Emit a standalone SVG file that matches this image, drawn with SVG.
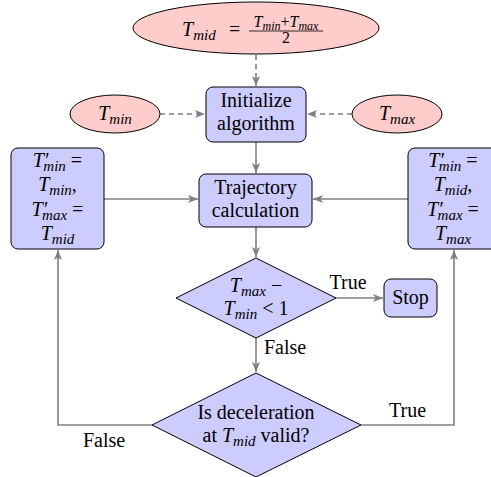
<svg xmlns="http://www.w3.org/2000/svg" width="491" height="477" viewBox="0 0 491 477">
<defs>
<marker id="ah" markerUnits="userSpaceOnUse" markerWidth="11" markerHeight="9" refX="10" refY="4" orient="auto">
<path d="M0,0 L10,4 L0,8 L2.5,4 z" fill="#808080"/>
</marker>
</defs>
<rect width="491" height="477" fill="#fff"/>
<g id="connectors">
<g fill="none" stroke="#808080" stroke-width="1.6" marker-end="url(#ah)">
<g stroke-dasharray="5 4">
<line x1="256" y1="55" x2="256" y2="86"/>
<line x1="160" y1="114" x2="205" y2="114"/>
<line x1="352" y1="114" x2="307" y2="114"/>
</g>
<line x1="256" y1="142" x2="256" y2="173"/>
<line x1="104" y1="199" x2="198" y2="199"/>
<line x1="408" y1="199" x2="313" y2="199"/>
<line x1="256" y1="227" x2="256" y2="257"/>
<line x1="336" y1="298" x2="383" y2="298"/>
<line x1="256" y1="338" x2="256" y2="372"/>
<polyline points="152,425 58,425 58,250"/>
<polyline points="361,425 454,425 454,250"/>
</g>
<text x="348" y="289" text-anchor="middle" font-family="Liberation Serif" font-size="20">True</text>
<text x="264" y="354" font-family="Liberation Serif" font-size="20">False</text>
<text x="83" y="447" font-family="Liberation Serif" font-size="20">False</text>
<text x="389" y="417" font-family="Liberation Serif" font-size="20">True</text>
</g>
<g id="tmid">
<ellipse fill="#ffcccc" stroke="#000" cx="256" cy="28" rx="123" ry="26"/>
<text x="182" y="36" font-family="Liberation Serif" font-size="20"><tspan font-style="italic">T</tspan><tspan font-style="italic" font-size="15" dy="4">mid</tspan></text>
<text x="229" y="36" font-family="Liberation Serif" font-size="20">=</text>
<text x="286" y="27" text-anchor="middle" font-family="Liberation Serif" font-size="16"><tspan font-style="italic">T</tspan><tspan font-style="italic" font-size="12" dy="3">min</tspan><tspan dy="-3">+</tspan><tspan font-style="italic">T</tspan><tspan font-style="italic" font-size="12" dy="3">max</tspan></text>
<line x1="249" y1="31" x2="323" y2="31" stroke="#000" stroke-width="0.8"/>
<text x="286" y="43" text-anchor="middle" font-family="Liberation Serif" font-size="16">2</text>
</g>
<g id="tmin">
<ellipse fill="#ffcccc" stroke="#000" cx="115" cy="114" rx="45" ry="19"/>
<text x="115" y="120" text-anchor="middle" font-family="Liberation Serif" font-size="20"><tspan font-style="italic">T</tspan><tspan font-style="italic" font-size="15" dy="4">min</tspan></text>
</g>
<g id="tmax">
<ellipse fill="#ffcccc" stroke="#000" cx="397" cy="114" rx="45" ry="19"/>
<text x="397" y="120" text-anchor="middle" font-family="Liberation Serif" font-size="20"><tspan font-style="italic">T</tspan><tspan font-style="italic" font-size="15" dy="4">max</tspan></text>
</g>
<g id="init">
<rect fill="#ccccff" stroke="#000" x="206" y="87" width="100" height="55" rx="7"/>
<text x="256" y="107" text-anchor="middle" font-family="Liberation Serif" font-size="20">Initialize</text>
<text x="256" y="130" text-anchor="middle" font-family="Liberation Serif" font-size="20">algorithm</text>
</g>
<g id="traj">
<rect fill="#ccccff" stroke="#000" x="199" y="174" width="113" height="53" rx="7"/>
<text x="255.5" y="194" text-anchor="middle" font-family="Liberation Serif" font-size="20">Trajectory</text>
<text x="255.5" y="217" text-anchor="middle" font-family="Liberation Serif" font-size="20">calculation</text>
</g>
<g id="left">
<rect fill="#ccccff" stroke="#000" x="11" y="148" width="93" height="101" rx="7"/>
<text x="57.5" y="167" text-anchor="middle" font-family="Liberation Serif" font-size="20"><tspan font-style="italic">T′</tspan><tspan font-style="italic" font-size="15" dx="-5" dy="4">min</tspan><tspan dy="-4"> =</tspan></text>
<text x="57.5" y="191" text-anchor="middle" font-family="Liberation Serif" font-size="20"><tspan font-style="italic">T</tspan><tspan font-style="italic" font-size="15" dy="4">min</tspan><tspan dy="-4">,</tspan></text>
<text x="57.5" y="216" text-anchor="middle" font-family="Liberation Serif" font-size="20"><tspan font-style="italic">T′</tspan><tspan font-style="italic" font-size="15" dx="-5" dy="4">max</tspan><tspan dy="-4"> =</tspan></text>
<text x="57.5" y="240" text-anchor="middle" font-family="Liberation Serif" font-size="20"><tspan font-style="italic">T</tspan><tspan font-style="italic" font-size="15" dy="4">mid</tspan></text>
</g>
<g id="right">
<rect fill="#ccccff" stroke="#000" x="408" y="148" width="92" height="101" rx="7"/>
<text x="453" y="167" text-anchor="middle" font-family="Liberation Serif" font-size="20"><tspan font-style="italic">T′</tspan><tspan font-style="italic" font-size="15" dx="-5" dy="4">min</tspan><tspan dy="-4"> =</tspan></text>
<text x="453" y="191" text-anchor="middle" font-family="Liberation Serif" font-size="20"><tspan font-style="italic">T</tspan><tspan font-style="italic" font-size="15" dy="4">mid</tspan><tspan dy="-4">,</tspan></text>
<text x="453" y="216" text-anchor="middle" font-family="Liberation Serif" font-size="20"><tspan font-style="italic">T′</tspan><tspan font-style="italic" font-size="15" dx="-5" dy="4">max</tspan><tspan dy="-4"> =</tspan></text>
<text x="453" y="240" text-anchor="middle" font-family="Liberation Serif" font-size="20"><tspan font-style="italic">T</tspan><tspan font-style="italic" font-size="15" dy="4">max</tspan></text>
</g>
<g id="check">
<polygon fill="#ccccff" stroke="#000" points="256,258 336,298 256,338 176,298"/>
<text x="256" y="292" text-anchor="middle" font-family="Liberation Serif" font-size="20"><tspan font-style="italic">T</tspan><tspan font-style="italic" font-size="15" dy="4">max</tspan><tspan dy="-4"> −</tspan></text>
<text x="256" y="315" text-anchor="middle" font-family="Liberation Serif" font-size="20"><tspan font-style="italic">T</tspan><tspan font-style="italic" font-size="15" dy="4">min</tspan><tspan dy="-4"> &lt; 1</tspan></text>
</g>
<g id="stop">
<rect fill="#ccccff" stroke="#000" x="384" y="279" width="53" height="38" rx="7"/>
<text x="410.5" y="304" text-anchor="middle" font-family="Liberation Serif" font-size="20">Stop</text>
</g>
<g id="decel">
<polygon fill="#ccccff" stroke="#000" points="256,373 361,425 256,477 152,425"/>
<text x="256" y="419" text-anchor="middle" font-family="Liberation Serif" font-size="20">Is deceleration</text>
<text x="256" y="442" text-anchor="middle" font-family="Liberation Serif" font-size="20">at <tspan font-style="italic">T</tspan><tspan font-style="italic" font-size="15" dy="4">mid</tspan><tspan dy="-4"> valid?</tspan></text>
</g>
</svg>
